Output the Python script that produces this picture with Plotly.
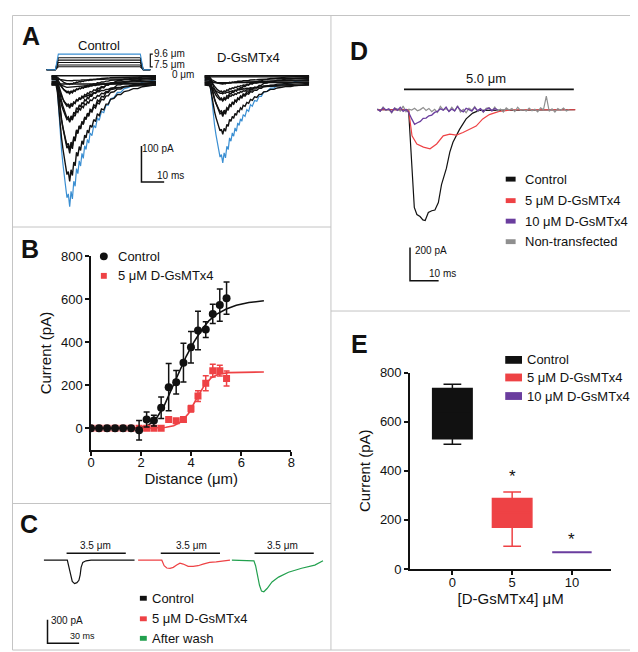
import plotly.graph_objects as go

W, H = 638, 652
FONT = "Liberation Sans, Arial, sans-serif"
BLACK = "#111111"
RED = "#ee4245"
BLUE = "#3b8fd2"
PURPLE = "#6a3d9e"
GRAY = "#8f8f8f"
GREEN = "#22a04e"

# ---------------- data ----------------
# A: transient shape (ms after sweep start, fraction of peak) and peak currents (pA)
a_t = [0, 1, 2, 2.6, 3.2, 3.8, 4.4, 5.0, 5.6, 6.2, 6.8, 7.4, 8.0, 8.6, 9.2, 9.8, 10.4, 11.0, 11.6,
       12.2, 12.8, 13.4, 14.0, 14.6, 15.2, 15.8, 16.4, 17.0, 17.8, 18.6, 19.4, 20.2, 21.0, 22.0,
       23.0, 24.0, 25.0, 26.0, 27.5, 29.0, 30.5, 32.0, 34.0, 36.0, 38.0, 40.0, 43.0, 46.0]
a_shape = [0, 0, 0, 0.08, 0.25, 0.4, 0.55, 0.66, 0.78, 0.84, 0.93, 0.9, 1.0, 0.88, 0.94, 0.8, 0.84,
           0.7, 0.74, 0.64, 0.68, 0.58, 0.62, 0.52, 0.55, 0.47, 0.5, 0.42, 0.44, 0.36, 0.38, 0.3,
           0.32, 0.25, 0.26, 0.2, 0.2, 0.15, 0.14, 0.1, 0.1, 0.07, 0.06, 0.04, 0.04, 0.02, 0.01, 0]
a_ctrl_peaks = [267, 211, 188, 125, 107, 80, 58, 44, 31, 22, 13, 6, 0, 0]
a_ctrl_offsets = [-12, 9, -5, 12, -9, 3, -13, 7, -2, 11, -7, 5, -10, 13]
a_ctrl_blue = 351
a_drug_peaks = [138, 108, 89, 67, 49, 35, 24, 16, 8, 0, 0, 0]
a_drug_offsets = [-11, 8, -4, 12, -8, 2, -13, 6, -1, 10, -6, 13]
a_drug_blue = 230
a_stim_t = [15.2, 19.1, 20.4, 56.5, 57.8, 60.9]
a_stim_levels = [7.5, 7.8, 8.2, 8.6, 9.0, 9.6]
a_stim_rest = 7.0

# B: current vs distance
b_x = [0, 0.32, 0.64, 0.96, 1.28, 1.6, 1.92, 2.22, 2.51, 2.8, 3.1, 3.4, 3.69, 3.99, 4.27, 4.58, 4.86, 5.14, 5.41]
b_ctrl = [0, 0, 0, 0, 0, 0, -9, 41, 36, 95, 191, 214, 305, 377, 455, 459, 532, 573, 605]
b_ctrl_err = [0, 0, 0, 0, 0, 0, 45, 35, 25, 50, 110, 55, 90, 73, 90, 37, 45, 75, 75]
b_drug = [0, 0, 0, 0, 0, 0, 0, 0, 0, 0, 41, 35, 41, 91, 150, 209, 268, 268, 232]
b_drug_err = [0, 0, 0, 0, 0, 0, 0, 0, 0, 0, 5, 5, 10, 15, 25, 35, 30, 25, 35]
b_fit_ctrl_x = [0, 1.0, 2.0, 2.3, 2.6, 2.9, 3.2, 3.5, 3.8, 4.1, 4.4, 4.7, 5.0, 5.4, 5.8, 6.3, 6.9]
b_fit_ctrl_y = [0, 0, 3, 15, 45, 100, 180, 260, 335, 400, 455, 500, 530, 555, 572, 585, 593]
b_fit_drug_x = [0, 2.5, 3.0, 3.3, 3.6, 3.9, 4.2, 4.5, 4.8, 5.1, 5.5, 6.0, 6.9]
b_fit_drug_y = [0, 1, 5, 12, 30, 70, 135, 195, 235, 252, 259, 261, 262]

# C: example traces (ms after sweep start, pA)
c_ctrl_t = [0, 22.2, 23.4, 25.3, 26.9, 29.1, 31.3, 33.2, 34.4, 35.3, 36.9, 40.0, 44.7, 86.0]
c_ctrl_v = [0, 0, -71, -196, -271, -300, -288, -258, -188, -92, -29, -8, 0, 0]
c_drug_t = [0, 22.5, 24.7, 27.2, 30.3, 33.4, 36.6, 39.7, 42.8, 47.5, 52.2, 56.9, 61.6, 67.8, 74.1, 80.3, 87.2]
c_drug_v = [0, 0, -71, -100, -104, -92, -63, -38, -50, -79, -79, -71, -50, -29, -21, -8, 0]
c_wash_t = [0, 20.9, 22.5, 24.0, 26.2, 28.1, 30.3, 33.4, 38.1, 44.3, 53.7, 66.2, 78.7, 86.5]
c_wash_v = [0, -8, -71, -196, -321, -396, -404, -363, -279, -217, -154, -104, -63, -8]
c_stim_on, c_stim_dur = 21.5, 56.2

# D: example traces (ms, pA)
d_ctrl_t = [0, 10.9, 12.9, 13.8, 14.9, 15.9, 16.7, 17.8, 19.0, 20.1, 21.3, 22.4, 24.1, 25.3, 26.4,
            28.7, 31.0, 33.3, 35.6, 69.0]
d_ctrl_v = [0, 0, -588, -631, -643, -663, -667, -618, -608, -604, -559, -451, -353, -255, -196,
            -118, -55, -20, -4, 0]
d_drug5_t = [0, 10.9, 12.1, 13.8, 16.1, 18.4, 20.7, 23.0, 25.3, 27.6, 29.9, 32.2, 34.5, 36.8,
             39.1, 42.5, 47.1, 69.2]
d_drug5_v = [0, 0, -157, -206, -225, -235, -206, -157, -147, -153, -137, -118, -98, -55,
             -29, -10, 0, 0]
d_drug10_v = [3, -8, 12, -2, 6, -14, 9, -4, 15, -9, 2, -18, -55, -88, -78, -70, -52, -50, -36,
              -32, -16, -10, 6, -3, 16, -11, 4, -7, 19, -2, -13, 9, 1, -8, 14, -5, 7, -12, 3,
              11, -6, 8, 0]
d_nontf_v = [6, -9, 17, -3, 2, -19, 11, 4, -8, 22, -12, 3, -2, 9, -6, 1, 14, -4, 8, -12, 3, -16,
             21, -1, 7, -9, 15, -7, 24, -13, 2, -18, 10, -3, 19, -10, 5, -15, 9, 13, -6, 16, -9,
             4, -14, 11, -2, 7, -11, 15, -4, 1, -8, 10, -6, 3, -12, 12, 0, 82, -9, 6, -14, 8, -3,
             10, -7, 2]
d_dt = 1.0
d_stim_on, d_stim_off = 9.3, 68.6

# E: box summary
e_cats = ["0", "5", "10"]
e_names = ["Control", "5 μM D-GsMTx4", "10 μM D-GsMTx4"]
e_low = [508, 92, 68]
e_q1 = [530, 170, 68]
e_med = [640, 230, 68]
e_q3 = [735, 287, 68]
e_high = [752, 313, 68]
e_star = [None, 376, 120]

# ---------------- layout helpers ----------------
layout = dict(width=W, height=H, margin=dict(l=0, r=0, t=0, b=0),
              paper_bgcolor="white", plot_bgcolor="rgba(0,0,0,0)", showlegend=False,
              font=dict(family=FONT, color=BLACK), boxmode="overlay",
              shapes=[], annotations=[])


def axes(n, x0, x1, y0, y1, xr, yr):
    s = "" if n == 1 else str(n)
    layout["xaxis" + s] = dict(domain=[x0 / W, x1 / W], range=xr, anchor="y" + s, visible=False)
    layout["yaxis" + s] = dict(domain=[1 - y1 / H, 1 - y0 / H], range=yr, anchor="x" + s, visible=False)


def text(t, x, y, size=13, xa="center", ya="middle", bold=False):
    if xa == "left":
        x -= 3
    layout["annotations"].append(dict(
        text=f"<b>{t}</b>" if bold else t, x=x / W, y=1 - y / H, xref="paper", yref="paper",
        xanchor=xa, yanchor=ya, showarrow=False, font=dict(size=size, family=FONT, color=BLACK)))


def pline(x0, y0, x1, y1, color="#c4c4c4", w=1):
    layout["shapes"].append(dict(type="line", xref="paper", yref="paper", x0=x0 / W, x1=x1 / W,
                                 y0=1 - y0 / H, y1=1 - y1 / H, line=dict(color=color, width=w)))


def swatch(cx, cy, w, h, color, kind="rect"):
    layout["shapes"].append(dict(type=kind, xref="paper", yref="paper",
                                 x0=(cx - w / 2) / W, x1=(cx + w / 2) / W,
                                 y0=1 - (cy + h / 2) / H, y1=1 - (cy - h / 2) / H,
                                 fillcolor=color, line=dict(width=0)))


def dline(xs, ys, xref, yref, w=1.5):
    layout["shapes"].append(dict(type="path", xref=xref, yref=yref,
                                 path="M" + " L".join(f"{a},{b}" for a, b in zip(xs, ys)),
                                 line=dict(color=BLACK, width=w)))


fig = go.Figure()

# ---------------- panel A ----------------
axes(1, 0, 320, 0, 217, [0, 320 / 2.3], [-(217 - 67) * 2.703, 67 * 2.703])
axes(6, 0, 320, 0, 217, [0, 320 / 2.3], [9.6 - 177 / 6.19, 9.6 + 40 / 6.19])
for start, peaks, offs, blue in [(17.4, a_ctrl_peaks, a_ctrl_offsets, a_ctrl_blue),
                                 (84.8, a_drug_peaks, a_drug_offsets, a_drug_blue)]:
    xs = [start + t for t in a_t]
    fig.add_trace(go.Scatter(x=xs, y=[-blue * s + 2 for s in a_shape], mode="lines",
                             line=dict(color=BLUE, width=1.2), xaxis="x", yaxis="y"))
    for p, o in zip(peaks, offs):
        fig.add_trace(go.Scatter(x=xs, y=[-p * s + o for s in a_shape], mode="lines",
                                 line=dict(color=BLACK, width=1.4), xaxis="x", yaxis="y"))
for lv in a_stim_levels:
    fig.add_trace(go.Scatter(x=a_stim_t, y=[a_stim_rest, a_stim_rest, lv, lv, a_stim_rest, a_stim_rest],
                             mode="lines", line=dict(color=BLUE if lv == max(a_stim_levels) else BLACK, width=1.1),
                             xaxis="x6", yaxis="y6"))
dline([62.0, 60.9, 60.9, 62.0], [9.6, 9.6, 7.5, 7.5], "x6", "y6", 1.2)
dline([57, 57, 67], [-181, -281, -281], "x", "y")
text("A", 19, 22, 25, bold=True)
text("Control", 88, 31)
text("D-GsMTx4", 240, 43)
text("9.6 μm", 145, 39, 10, xa="left")
text("7.5 μm", 145, 51, 10, xa="left")
text("0 μm", 163, 61, 10, xa="left")
text("100 pA", 133, 137, 10, xa="left")
text("10 ms", 161, 164, 10)

# ---------------- panel B ----------------
axes(2, 80, 283, 247, 445, [0, 8], [-100, 800])
ax_style = dict(visible=True, showline=True, linecolor=BLACK, linewidth=1.5, ticks="outside",
                ticklen=4, tickwidth=1.5, tickcolor=BLACK, showgrid=False, zeroline=False,
                tickfont=dict(size=13, family=FONT, color=BLACK))
layout["xaxis2"].update(ax_style, tickvals=[0, 2, 4, 6, 8], ticklabelstandoff=-4,
                        title=dict(text="Distance (μm)", font=dict(size=15), standoff=2))
layout["yaxis2"].update(ax_style, tickvals=[0, 200, 400, 600, 800],
                        title=dict(text="Current (pA)", font=dict(size=15), standoff=6))
fig.add_trace(go.Scatter(x=b_fit_ctrl_x, y=b_fit_ctrl_y, mode="lines", line=dict(color=BLACK, width=1.6),
                         xaxis="x2", yaxis="y2"))
fig.add_trace(go.Scatter(x=b_fit_drug_x, y=b_fit_drug_y, mode="lines", line=dict(color=RED, width=1.6),
                         xaxis="x2", yaxis="y2"))
fig.add_trace(go.Scatter(x=b_x, y=b_drug, mode="markers", xaxis="x2", yaxis="y2",
                         marker=dict(symbol="square", size=7, color=RED),
                         error_y=dict(type="data", array=b_drug_err, color=RED, thickness=1.5, width=3)))
fig.add_trace(go.Scatter(x=b_x, y=b_ctrl, mode="markers", xaxis="x2", yaxis="y2",
                         marker=dict(symbol="circle", size=8, color=BLACK),
                         error_y=dict(type="data", array=b_ctrl_err, color=BLACK, thickness=1.5, width=3)))
text("B", 18, 239, 25, bold=True)
swatch(93, 247, 8, 8, BLACK, "circle")
swatch(93, 267, 6, 6, RED)
text("Control", 108, 247, 13, xa="left")
text("5 μM D-GsMTx4", 108, 267, 13, xa="left")

# ---------------- panel C ----------------
axes(3, 0, 323, 500, 650, [0, 323 / 1.067], [-(650 - 558) / 0.08, (558 - 500) / 0.08])
for start, ts, vs, col in [(30.3, c_ctrl_t, c_ctrl_v, BLACK), (119.7, c_drug_t, c_drug_v, RED),
                           (208.7, c_wash_t, c_wash_v, GREEN)]:
    fig.add_trace(go.Scatter(x=[start + t for t in ts], y=vs, mode="lines",
                             line=dict(color=col, width=1.2), xaxis="x3", yaxis="y3"))
    dline([start + c_stim_on, start + c_stim_on + c_stim_dur], [88, 88], "x3", "y3", 1.5)
for cx in [85, 182, 274]:
    text("3.5 μm", cx, 543, 10)
dline([33.7, 33.7, 63.7], [-762, -1062, -1062], "x3", "y3")
text("C", 17, 521, 25, bold=True)
text("300 pA", 40, 620, 10, xa="left")
text("30 ms", 60, 636, 9, xa="left")
for cy, col, lab in [(597, BLACK, "Control"), (618, RED, "5 μM D-GsMTx4"), (638, GREEN, "After wash")]:
    swatch(133, cy, 7, 5, col)
    text(lab, 143, cy, 13, xa="left")

# ---------------- panel D ----------------
axes(4, 323, 636, 0, 303, [(323 - 370) / 2.9, (636 - 370) / 2.9], [-(303 - 97) / 0.17, 97 / 0.17])
fig.add_trace(go.Scatter(x=d_ctrl_t, y=d_ctrl_v, mode="lines", line=dict(color=BLACK, width=1.2),
                         xaxis="x4", yaxis="y4"))
fig.add_trace(go.Scatter(x=d_drug5_t, y=d_drug5_v, mode="lines", line=dict(color=RED, width=1.2),
                         xaxis="x4", yaxis="y4"))
fig.add_trace(go.Scatter(x=[i * d_dt for i in range(len(d_nontf_v))], y=d_nontf_v, mode="lines",
                         line=dict(color=GRAY, width=1.2), xaxis="x4", yaxis="y4"))
fig.add_trace(go.Scatter(x=[i * d_dt for i in range(len(d_drug10_v))], y=d_drug10_v, mode="lines",
                         line=dict(color=PURPLE, width=1.3), xaxis="x4", yaxis="y4"))
dline([d_stim_on, d_stim_off], [123, 123], "x4", "y4", 1.8)
dline([11.4, 11.4, 21.4], [-829, -1029, -1029], "x4", "y4")
text("D", 351, 37, 25, bold=True)
text("5.0 μm", 480, 65, 13)
text("200 pA", 409, 241, 10, xa="left")
text("10 ms", 423, 265, 10, xa="left")
for cy, col, lab in [(168, BLACK, "Control"), (190, RED, "5 μM D-GsMTx4"),
                     (211, PURPLE, "10 μM D-GsMTx4"), (232, GRAY, "Non-transfected")]:
    swatch(505, cy, 10, 5, col)
    text(lab, 520, cy, 13, xa="left")

# ---------------- panel E ----------------
axes(5, 403, 607, 366, 567, [-0.71, 2.66], [0, 800])
layout["xaxis5"].update(ax_style, tickvals=[0, 1, 2], ticktext=e_cats, ticklabelstandoff=-3,
                        title=dict(text="[D-GsMTx4] μM", font=dict(size=15), standoff=2))
layout["yaxis5"].update(ax_style, tickvals=[0, 200, 400, 600, 800],
                        title=dict(text="Current (pA)", font=dict(size=15), standoff=6))
for i, col in enumerate([BLACK, RED, PURPLE]):
    fig.add_trace(go.Box(x=[i], q1=[e_q1[i]], median=[e_med[i]], q3=[e_q3[i]],
                         lowerfence=[e_low[i]], upperfence=[e_high[i]], name=e_names[i],
                         fillcolor=col, line=dict(color=col, width=2.2 if i == 2 else 1.5),
                         width=0.66, whiskerwidth=0.45, xaxis="x5", yaxis="y5"))
    if e_star[i] is not None:
        layout["annotations"].append(dict(text="*", x=i, y=e_star[i], xref="x5", yref="y5",
                                          showarrow=False, font=dict(size=17, family=FONT, color=BLACK)))
text("E", 352, 337, 25, bold=True)
for cy, col, lab in [(353, BLACK, "Control"), (371, RED, "5 μM D-GsMTx4"), (390, PURPLE, "10 μM D-GsMTx4")]:
    swatch(508, cy, 17, 8, col)
    text(lab, 523, cy, 13, xa="left")

# ---------------- panel borders ----------------
pline(0.5, 0.5, 636, 0.5)
pline(0.5, 0.5, 0.5, 650)
pline(636, 0.5, 636, 650)
pline(0.5, 650, 636, 650)
pline(323, 0.5, 323, 650)
pline(0.5, 217, 323, 217)
pline(0.5, 500, 323, 500)
pline(323, 303, 636, 303)

fig.update_layout(layout)
fig.write_html("out.html")
